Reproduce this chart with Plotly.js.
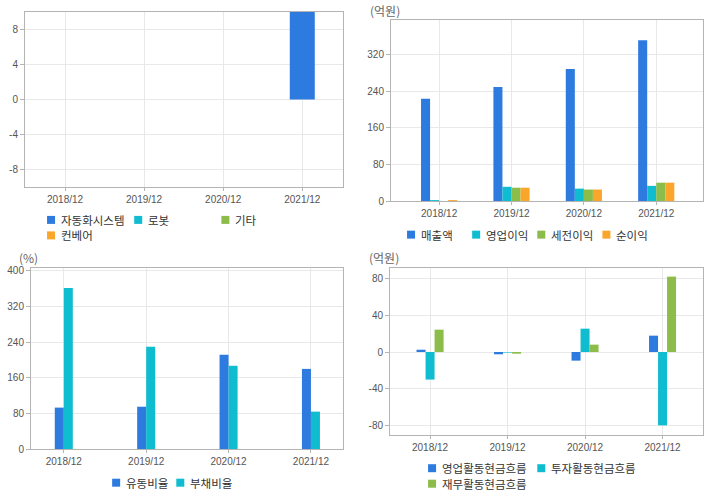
<!DOCTYPE html>
<html><head><meta charset="utf-8">
<script src="https://cdn.plot.ly/plotly-3.0.1.min.js"></script>
<style>
html,body{margin:0;padding:0;background:#fff;}
#wrap{position:relative;width:720px;height:496px;overflow:hidden;background:#fff;}
.c{position:absolute;width:360px;height:248px;}
</style></head><body>
<div id="wrap">
<div id="c1" class="c" style="left:0;top:0"></div>
<div id="c2" class="c" style="left:360px;top:0"></div>
<div id="c3" class="c" style="left:0;top:248px"></div>
<div id="c4" class="c" style="left:360px;top:248px"></div>
</div>
<script>
// ---------- data ----------
const periods = ['2018/12', '2019/12', '2020/12', '2021/12'];

// chart 1: segment sales
const segNames = ['자동화시스템', '로봇', '기타', '컨베어'];
const segAuto = [null, null, null, 10];
const segRobot = [null, null, null, null];
const segEtc = [null, null, null, null];
const segConv = [null, null, null, null];
const segTicks = [-8, -4, 0, 4, 8];

// chart 2: income (억원)
const incomeNames = ['매출액', '영업이익', '세전이익', '순이익'];
const sales = [223, 249, 288, 351];
const opIncome = [2, 31, 27, 33];
const pretaxIncome = [0, 29, 25, 40];
const netIncome = [2, 29, 25, 40];
const incomeTicks = [0, 80, 160, 240, 320];

// chart 3: ratios (%)
const ratioNames = ['유동비율', '부채비율'];
const currentRatio = [93, 95, 212, 180];
const debtRatio = [362, 230, 187, 84];
const ratioTicks = [0, 80, 160, 240, 320, 400];

// chart 4: cash flows (억원)
const cfNames = ['영업활동현금흐름', '투자활동현금흐름', '재무활동현금흐름'];
const cfOperating = [2.5, -2.5, -9.4, 17.8];
const cfInvesting = [-30, -0.6, 25.4, -79.8];
const cfFinancing = [24.3, -1.8, 8, 82];
const cfTicks = [-80, -40, 0, 40, 80];

// ---------- style ----------
const colors = ['#2e7be0', '#10bdd0', '#8cbd4b', '#faa62b'];
const W = 360, H = 248;
const tickFont = {family: '"Liberation Sans Narrow", "Liberation Sans", Arial, sans-serif', size: 10, color: '#555'};
const legFont = {family: '"Noto Sans CJK KR", "Noto Sans", sans-serif', size: 11.5, color: '#333'};
const unitFont = {family: '"Noto Sans CJK KR", "Noto Sans", sans-serif', size: 12, color: '#666'};
const lineCol = '#b4b4b4', gridCol = '#e8e8e8';

function px2paper(m, px, py) {
  const w = W - m.l - m.r, h = H - m.t - m.b;
  return [(px - m.l) / w, 1 - (py - m.t) / h];
}

function customLegend(m, names, spec) {
  const shapes = [], annos = [];
  names.forEach((n, i) => {
    const col = i % spec.perRow, row = Math.floor(i / spec.perRow);
    const mx = spec.x0 + col * spec.pitch, my = spec.y0 + row * (spec.rowGap || 0);
    const a = px2paper(m, mx, my - 4), b = px2paper(m, mx + 8, my + 4);
    shapes.push({type: 'rect', xref: 'paper', yref: 'paper', x0: a[0], x1: b[0], y0: b[1], y1: a[1],
      fillcolor: colors[i], line: {width: 0}, layer: 'above'});
    const t = px2paper(m, mx + 13, my);
    annos.push({xref: 'paper', yref: 'paper', x: t[0], y: t[1], xanchor: 'left', yanchor: 'middle',
      text: n, showarrow: false, font: legFont, borderpad: 0});
  });
  return {shapes, annos};
}

function unitLabel(m, text, px, py) {
  const p = px2paper(m, px, py);
  return {xref: 'paper', yref: 'paper', x: p[0], y: p[1], xanchor: 'left', yanchor: 'middle',
    text: text, showarrow: false, font: unitFont};
}

function baseLayout(m, xr, yr, yticks, extra) {
  return Object.assign({
    width: W, height: H, margin: {l: m.l, r: m.r, t: m.t, b: m.b, pad: 0},
    paper_bgcolor: '#fff', plot_bgcolor: '#fff', showlegend: false,
    xaxis: {type: 'category', categoryorder: 'array', categoryarray: periods, range: xr,
      showgrid: true, gridcolor: gridCol, showline: true, mirror: true, linecolor: lineCol, linewidth: 1,
      ticks: 'outside', ticklen: 3, tickcolor: lineCol, tickfont: tickFont, zeroline: false, fixedrange: true},
    yaxis: {range: yr, tickmode: 'array', tickvals: yticks, ticktext: yticks.map(String),
      showgrid: true, gridcolor: gridCol, showline: true, mirror: true,
      linecolor: lineCol, linewidth: 1, ticks: 'outside', ticklen: 4, tickcolor: lineCol, tickfont: tickFont,
      zeroline: false, fixedrange: true},
    font: {family: '"Noto Sans CJK KR", sans-serif'}
  }, extra);
}

function bars(ys, names) {
  return ys.map((y, i) => ({type: 'bar', x: periods, y: y, name: names[i], marker: {color: colors[i], line: {width: 0}},
    hoverinfo: 'skip'}));
}

const cfg = {staticPlot: true, displayModeBar: false};

// chart 1
const m1 = {l: 25.3, r: 17.3, t: 12.3, b: 60.7};
const lg1 = customLegend(m1, segNames, {x0: 47.3, pitch: 87, perRow: 3, y0: 220.2, rowGap: 15.5});
Plotly.newPlot('c1', bars([segAuto, segRobot, segEtc, segConv], segNames),
  baseLayout(m1, [-0.506, 3.515], [-10, 10], segTicks, {barmode: 'overlay', bargap: 0.684,
    shapes: lg1.shapes, annotations: lg1.annos}), cfg);

// chart 2
const m2 = {l: 31.3, r: 17.3, t: 20, b: 46.7};
const lg2 = customLegend(m2, incomeNames, {x0: 47.3, pitch: 65, perRow: 4, y0: 235});
Plotly.newPlot('c2', bars([sales, opIncome, pretaxIncome, netIncome], incomeNames),
  baseLayout(m2, [-0.665, 3.646], [0, 395], incomeTicks, {barmode: 'group', bargap: 0.5, bargroupgap: 0,
    shapes: lg2.shapes, annotations: lg2.annos.concat([unitLabel(m2, '(억원)', 8, 10.7)])}), cfg);

// chart 3
const m3 = {l: 31.3, r: 17.3, t: 20.3, b: 46.7};
const lg3 = customLegend(m3, ratioNames, {x0: 112.3, pitch: 64, perRow: 2, y0: 235});
Plotly.newPlot('c3', bars([currentRatio, debtRatio], ratioNames),
  baseLayout(m3, [-0.398, 3.389], [0, 406.7], ratioTicks, {barmode: 'group', bargap: 0.781, bargroupgap: 0,
    shapes: lg3.shapes, annotations: lg3.annos.concat([unitLabel(m3, '(%)', 17, 9.3)])}), cfg);

// chart 4
const m4 = {l: 30.3, r: 17.3, t: 20.3, b: 60.7};
const lg4 = customLegend(m4, cfNames, {x0: 68.3, pitch: 109, perRow: 2, y0: 220.5, rowGap: 15.5});
Plotly.newPlot('c4', bars([cfOperating, cfInvesting, cfFinancing], cfNames),
  baseLayout(m4, [-0.517, 3.522], [-90.3, 91.4], cfTicks, {barmode: 'group', bargap: 0.651, bargroupgap: 0,
    shapes: lg4.shapes, annotations: lg4.annos.concat([unitLabel(m4, '(억원)', 7.3, 9.3)])}), cfg);
</script>
</body></html>
